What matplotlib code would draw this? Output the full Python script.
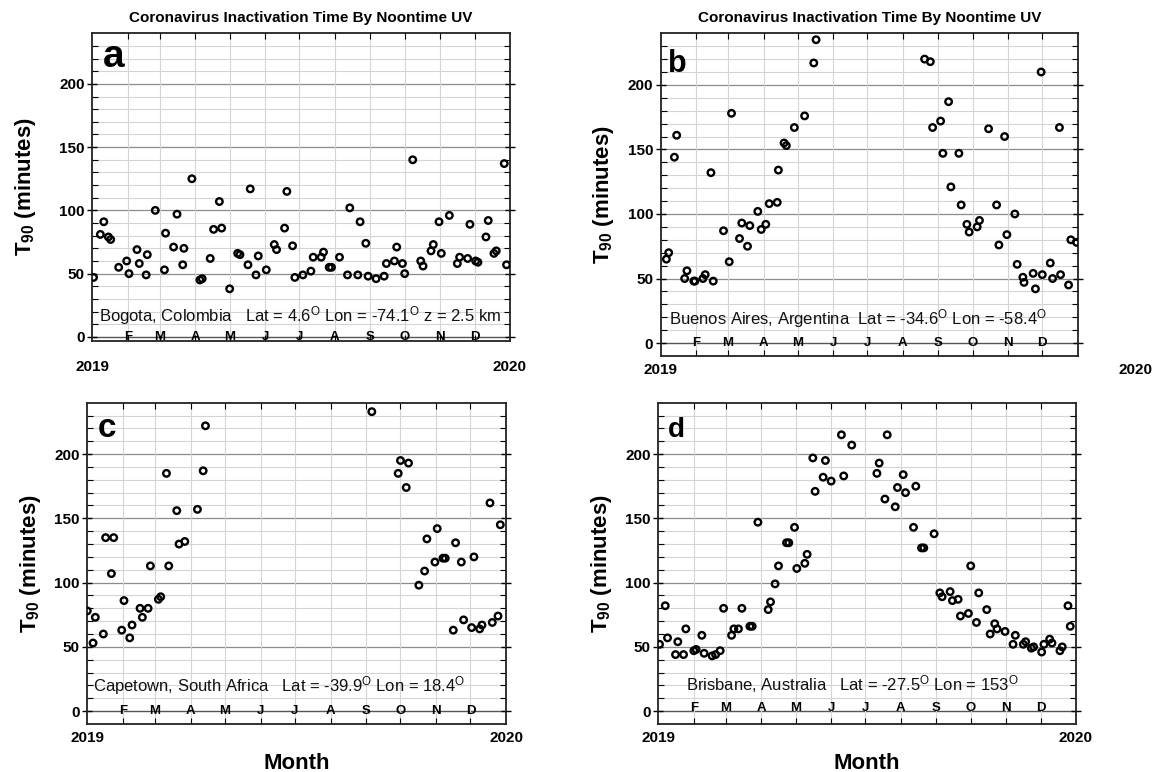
import matplotlib
matplotlib.use("Agg")
import matplotlib.pyplot as plt
from matplotlib import font_manager
from matplotlib.transforms import ScaledTranslation
import numpy as np

# ---------------- data (day of year 2019, T90 minutes) ----------------
bogota_day = [1, 7, 10, 14, 16, 23, 30, 32, 39, 41, 47, 48, 55, 63, 64, 71, 74, 79, 80, 87,
              94, 96, 103, 106, 111, 113, 120, 127, 129, 136, 138, 143, 145, 152, 159, 161,
              168, 170, 175, 177, 184, 191, 193, 200, 202, 207, 209, 216, 223, 225, 232, 234,
              239, 241, 248, 255, 257, 264, 266, 271, 273, 280, 287, 289, 296, 298, 303, 305,
              312, 319, 321, 328, 330, 335, 337, 344, 346, 351, 353, 360, 362]
bogota_t90 = [47, 81, 91, 79, 77, 55, 60, 50, 69, 58, 49, 65, 100, 53, 82, 71, 97, 57, 70, 125,
              45, 46, 62, 85, 107, 86, 38, 66, 65, 57, 117, 49, 64, 53, 73, 69,
              86, 115, 72, 47, 49, 52, 63, 63, 67, 55, 55, 63, 49, 102, 49, 91,
              74, 48, 46, 48, 58, 60, 71, 58, 50, 140, 60, 56, 68, 73, 91, 66,
              96, 58, 63, 62, 89, 60, 59, 79, 92, 66, 68, 137, 57]

baires_day = [5, 7, 12, 14, 21, 23, 29, 30, 37, 39, 44, 46, 55, 60, 62, 69, 71, 76, 78, 85,
              88, 92, 95, 102, 103, 108, 110, 117, 126, 134, 136, 231, 236, 238, 245, 247,
              252, 254, 261, 263, 268, 270, 277, 279, 287, 294, 296, 301, 303, 310, 312,
              317, 318, 326, 328, 333, 334, 341, 343, 349, 350, 357, 359, 364]
baires_t90 = [65, 70, 144, 161, 50, 56, 48, 48, 50, 53, 132, 48, 87, 63, 178, 81, 93, 75, 91, 102,
              88, 92, 108, 109, 134, 155, 153, 167, 176, 217, 235, 220, 218, 167, 172, 147,
              187, 121, 147, 107, 92, 86, 90, 95, 166, 107, 76, 160, 84, 100, 61,
              51, 47, 54, 42, 210, 53, 62, 50, 167, 53, 45, 80, 78]

capetown_day = [0, 5, 7, 14, 16, 21, 23, 30, 32, 37, 39, 46, 48, 53, 55, 62, 64, 69, 71, 78,
                80, 85, 96, 101, 103, 248, 271, 273, 278, 280, 289, 294, 296, 303, 305, 310,
                312, 319, 321, 326, 328, 335, 337, 342, 344, 351, 353, 358, 360]
capetown_t90 = [78, 53, 73, 60, 135, 107, 135, 63, 86, 57, 67, 80, 73, 80, 113, 87, 89, 185, 113, 156,
                130, 132, 157, 187, 222, 233, 185, 195, 174, 193, 98, 109, 134, 116, 142, 119,
                119, 63, 131, 116, 71, 65, 120, 64, 67, 162, 69, 74, 145]

brisbane_day = [1, 6, 8, 15, 17, 22, 24, 31, 33, 38, 40, 47, 50, 54, 57, 64, 66, 70, 73, 80,
                82, 87, 96, 98, 102, 105, 112, 114, 119, 121, 128, 130, 135, 137, 144, 146,
                151, 160, 162, 169, 191, 193, 198, 200, 207, 209, 214, 216, 223, 225, 230,
                232, 241, 246, 248, 255, 257, 262, 264, 271, 273, 278, 280, 287, 290, 294,
                296, 303, 310, 312, 319, 321, 326, 328, 335, 337, 342, 344, 351, 353, 358, 360]
brisbane_t90 = [52, 82, 57, 44, 54, 44, 64, 47, 48, 59, 45, 43, 44, 47, 80, 59, 64, 64, 80, 66,
                66, 147, 79, 85, 99, 113, 131, 131, 143, 111, 115, 122, 197, 171, 182, 195,
                179, 215, 183, 207, 185, 193, 165, 215, 159, 174, 184, 170, 143, 175, 127,
                127, 138, 92, 89, 93, 86, 87, 74, 76, 113, 69, 92, 79, 60, 68,
                64, 62, 52, 59, 52, 54, 49, 50, 46, 52, 56, 53, 47, 50, 82, 66]

month_letters = ["F", "M", "A", "M", "J", "J", "A", "S", "O", "N", "D"]
month_starts = [31, 59, 90, 120, 151, 181, 212, 243, 273, 304, 334]
year_labels = ["2019", "2020"]
yticks = [0, 50, 100, 150, 200]

panel_letters = ["a", "b", "c", "d"]
site_labels = [
    "Bogota, Colombia   Lat = 4.6$^{\\mathregular{O}}$ Lon = -74.1$^{\\mathregular{O}}$ z = 2.5 km",
    "Buenos Aires, Argentina  Lat = -34.6$^{\\mathregular{O}}$ Lon = -58.4$^{\\mathregular{O}}$",
    "Capetown, South Africa   Lat = -39.9$^{\\mathregular{O}}$ Lon = 18.4$^{\\mathregular{O}}$",
    "Brisbane, Australia   Lat = -27.5$^{\\mathregular{O}}$ Lon = 153$^{\\mathregular{O}}$",
]
title_text = "Coronavirus Inactivation Time By Noontime UV"

# ---------------- layout ----------------
plt.rcParams['font.family'] = ['Liberation Sans', 'DejaVu Sans']
plt.rcParams['mathtext.default'] = 'regular'

installed = {f.name for f in font_manager.fontManager.ttflist}
narrow = 'Liberation Sans Narrow' if 'Liberation Sans Narrow' in installed else 'Liberation Sans'
title_size = 12.5 if narrow == 'Liberation Sans Narrow' else 11

fig = plt.figure(figsize=(11.53, 7.72), dpi=100)

boxes = [
    (0.0801, 0.5587, 0.4423 - 0.0801, 0.9569 - 0.5587),
    (0.5730, 0.5389, 0.9347 - 0.5730, 0.9569 - 0.5389),
    (0.0757, 0.0622, 0.4389 - 0.0757, 0.4784 - 0.0622),
    (0.5710, 0.0622, 0.9332 - 0.5710, 0.4784 - 0.0622),
]
ylims = [(-3, 240), (-10, 240), (-10, 240), (-10, 240)]
datasets = [(bogota_day, bogota_t90), (baires_day, baires_t90),
            (capetown_day, capetown_t90), (brisbane_day, brisbane_t90)]
site_x = [0.016, 0.02, 0.013, 0.066]
site_y = [17, 19, 20, 21]
month_y = [0, 0, 0, 2.5]
letter_size = [28, 22, 24, 20]
letter_x = [0.024, 0.018, 0.024, 0.022]
letter_y = [0.889, 0.880, 0.894, 0.894]
ylabel_pad = [15, 8, 8, 8]
xtick_pad = [14, 5, 5, 5]
end_label_shift = [0.0, 0.58, 0.0, 0.0]   # inches

for i, (box, ylim, (dd, tt)) in enumerate(zip(boxes, ylims, datasets)):
    ax = fig.add_axes(box)
    ax.set_xlim(0, 365)
    ax.set_ylim(*ylim)

    # grid
    for y in range(10, 240, 10):
        if y % 50 == 0:
            ax.axhline(y, color='#8c8c8c', lw=0.9, zorder=0)
        else:
            ax.axhline(y, color='#d4d4d4', lw=0.8, zorder=0)
    ax.axhline(0, color='#555555', lw=1.0, zorder=0)
    for m in month_starts:
        ax.axvline(m, color='#d4d4d4', lw=0.8, zorder=0)

    ax.scatter(dd, tt, s=22, facecolors='none', edgecolors='black', linewidths=1.7, zorder=3)

    # ticks
    ax.set_yticks(yticks)
    ax.set_yticks(range(0, 240, 10), minor=True)
    ax.tick_params(axis='y', which='major', direction='inout', length=7, width=1.0,
                   labelsize=11, right=True, pad=2)
    ax.tick_params(axis='y', which='minor', direction='in', length=4, width=0.8, right=True)
    for lab in ax.get_yticklabels():
        lab.set_fontweight('bold')
    ax.set_xticks([0, 365])
    ax.set_xticklabels(year_labels, fontweight='bold', fontsize=11)
    ax.set_xticks(month_starts, minor=True)
    ax.tick_params(axis='x', which='major', length=0, pad=xtick_pad[i])
    ax.tick_params(axis='x', which='minor', direction='in', length=4, width=0.8, top=True)
    if end_label_shift[i]:
        lab = ax.get_xticklabels()[1]
        lab.set_transform(lab.get_transform() +
                          ScaledTranslation(end_label_shift[i], 0, fig.dpi_scale_trans))

    for sp in ax.spines.values():
        sp.set_linewidth(1.3)
        sp.set_color('#222222')

    # month letters on zero line
    for m, let in zip(month_starts, month_letters):
        ax.text(m, month_y[i], let, ha='center', va='center', fontsize=9.5, fontweight='bold',
                zorder=2)

    ax.text(letter_x[i], letter_y[i], panel_letters[i], transform=ax.transAxes,
            fontsize=letter_size[i], fontweight='bold', ha='left', va='baseline')
    ax.text(site_x[i], site_y[i], site_labels[i], transform=ax.get_yaxis_transform(),
            fontsize=12, ha='left', va='center', zorder=2, color='#111111')

    ax.set_ylabel("T$_{90}$ (minutes)", fontsize=16, fontweight='bold', labelpad=ylabel_pad[i])
    if i < 2:
        ax.set_title(title_text, fontsize=title_size, fontweight='bold', pad=8,
                     family=[narrow, 'DejaVu Sans'])
    else:
        ax.set_xlabel("Month", fontsize=16, fontweight='bold', labelpad=6)

fig.savefig("out.png", dpi=100)
